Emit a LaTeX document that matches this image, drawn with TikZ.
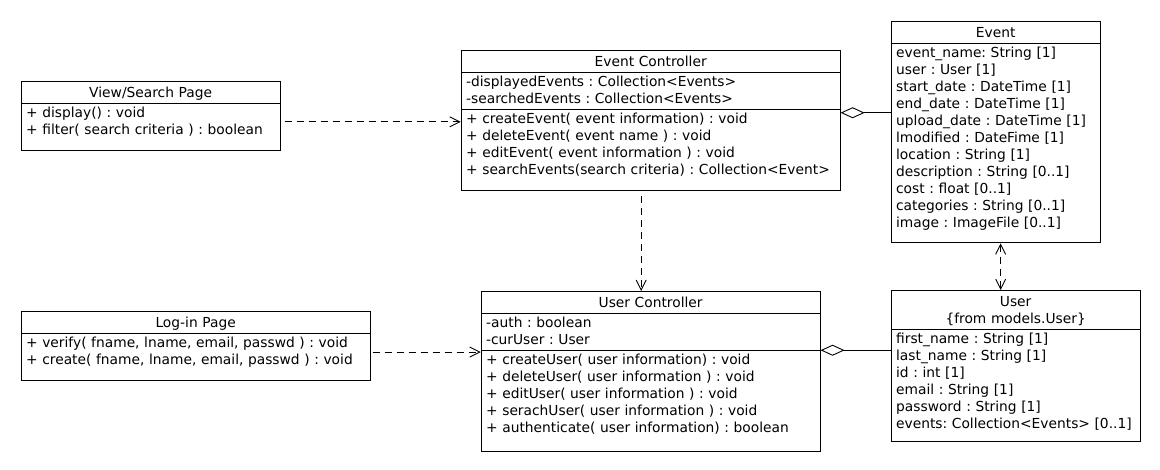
\documentclass[tikz,border=0pt]{standalone}
\usepackage{fontspec}
\setmainfont{DejaVu Sans}
\usetikzlibrary{arrows.meta,shapes.multipart,calc}

\newcommand{\ustrut}{\rule[-3pt]{0pt}{15pt}}
\newcommand{\tstrut}{\rule[-3pt]{0pt}{17pt}}
\newcommand{\tailgap}[1]{\rule[-\dimexpr3pt+#1\relax]{0pt}{\dimexpr15pt+#1\relax}}

\begin{document}
\begin{tikzpicture}[
  x=1pt, y=-1pt,
  umlclass/.style={draw, line width=0.9pt, rectangle split, anchor=north west,
    inner xsep=5pt, inner ysep=2pt, align=left,
    font=\fontsize{13.8}{17}\selectfont\frenchspacing},
  dep/.style={line width=0.9pt, dash pattern=on 7pt off 5pt,
    -{Straight Barb[length=10pt, width=10pt]}},
  agg/.style={line width=0.9pt, -{Diamond[open, length=24pt, width=11pt]}}
]
  \useasboundingbox[fill=white] (0,0) rectangle (1160,470);

  % classes
  \node[umlclass, rectangle split parts=2, text width=249pt] (view) at (20.7,80.7)
    {\centering\tstrut View/Search Page\tstrut\par
     \nodepart{two}\ustrut + display() : void\\
     + filter( search criteria ) : boolean\tailgap{11pt}};

  \node[umlclass, rectangle split parts=3, text width=369pt] (ec) at (460.7,50)
    {\centering\tstrut Event Controller\tstrut\par
     \nodepart{two}\ustrut -displayedEvents : Collection<Events>\\
     -searchedEvents : Collection<Events>\ustrut
     \nodepart{three}\ustrut + createEvent( event information) : void\\
     + deleteEvent( event name ) : void\\
     + editEvent( event information ) : void\\
     + searchEvents(search criteria) : Collection<Event>\tailgap{10pt}};

  \node[umlclass, rectangle split parts=2, text width=199pt] (event) at (890.7,20.7)
    {\centering\tstrut Event\tstrut\par
     \nodepart{two}\ustrut event\_name: String [1]\\
     user : User [1]\\
     start\_date : DateTime [1]\\
     end\_date : DateTime [1]\\
     upload\_date : DateTime [1]\\
     lmodified : DateFime [1]\\
     location : String [1]\\
     description : String [0..1]\\
     cost : float [0..1]\\
     categories : String [0..1]\\
     image : ImageFile [0..1]\tailgap{10pt}};

  \node[umlclass, rectangle split parts=2, text width=339pt] (login) at (20.7,310.7)
    {\centering\tstrut Log-in Page\tstrut\par
     \nodepart{two}\ustrut + verify( fname, lname, email, passwd ) : void\\
     + create( fname, lname, email, passwd ) : void\tailgap{11pt}};

  \node[umlclass, rectangle split parts=3, text width=329pt] (uc) at (480.7,291)
    {\centering\tstrut User Controller\tstrut\par
     \nodepart{two}\ustrut -auth : boolean\\
     -curUser : User\ustrut
     \nodepart{three}\ustrut + createUser( user information) : void\\
     + deleteUser( user information ) : void\\
     + editUser( user information ) : void\\
     + serachUser( user information ) : void\\
     + authenticate( user information) : boolean\tailgap{13pt}};

  \node[umlclass, rectangle split parts=2, text width=239pt] (user) at (890.7,290)
    {\centering\tstrut User\\
     \{from models.User\}\tstrut\par
     \nodepart{two}\ustrut first\_name : String [1]\\
     last\_name : String [1]\\
     id : int [1]\\
     email : String [1]\\
     password : String [1]\\
     events: Collection<Events> [0..1]\tailgap{7pt}};

  % dependencies
  \coordinate (view-out) at ($(view.east |- ec.west)+(4,1.5)$);
  \draw[dep] (view-out) -- (view-out -| ec.west);
  \draw[dep] ($(ec.south)+(-9.5,5)$) -- ($(uc.north)+(-9.5,0)$);
  \coordinate (login-out) at ($(login.east)+(2,6)$);
  \draw[dep] (login-out) -- (login-out -| uc.west);
  \coordinate (event-out) at ($(event.south)+(5,0)$);
  \draw[dep, {Straight Barb[length=10pt, width=10pt]}-{Straight Barb[length=10pt, width=10pt]}]
    (event-out) -- (event-out |- user.north);

  % aggregations
  \coordinate (ec-agg) at ($(ec.two split east)+(0,3.5)$);
  \draw[agg] (ec-agg -| event.west) -- (ec-agg);
  \draw[agg] (uc.two split east -| user.west) -- (uc.two split east);
\end{tikzpicture}
\end{document}
